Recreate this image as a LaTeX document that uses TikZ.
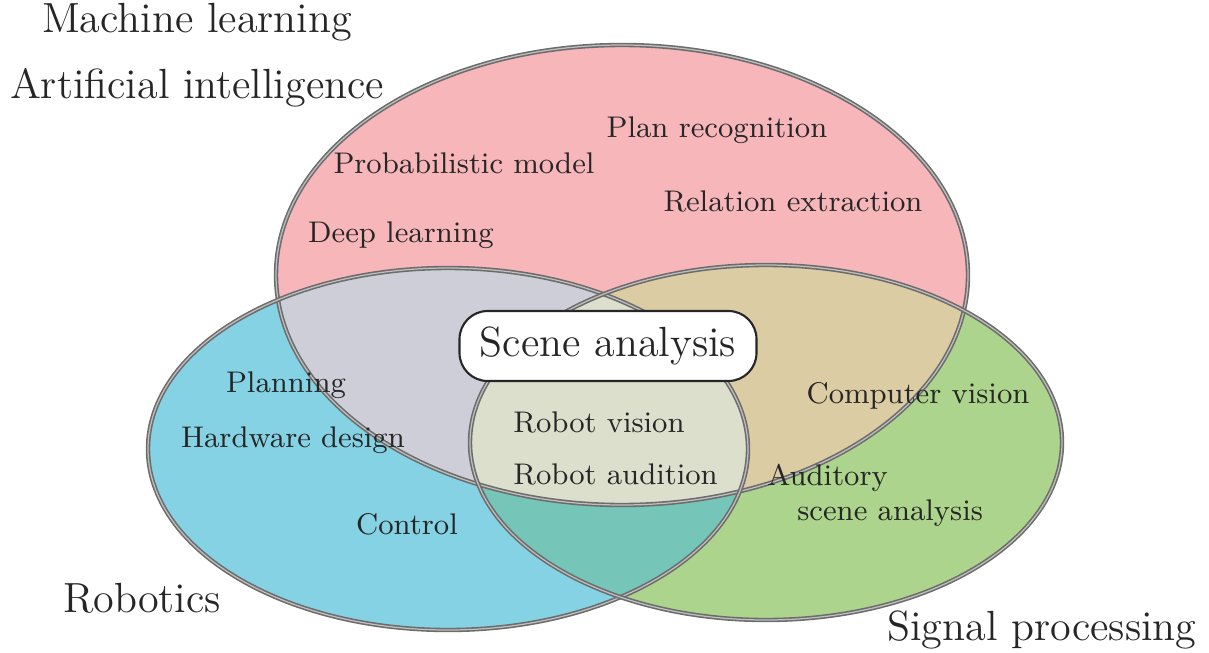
\documentclass[tikz,border=0pt]{standalone}
\usepackage{xcolor}
\usepackage{tikz}

\definecolor{aired}{HTML}{F7B6BA}
\definecolor{robblue}{HTML}{84D2E4}
\definecolor{siggreen}{HTML}{ADD48C}
\definecolor{airob}{HTML}{CDCED8}
\definecolor{aisig}{HTML}{DCCCA4}
\definecolor{robsig}{HTML}{75C6B8}
\definecolor{allthree}{HTML}{DCDFCC}

\begin{document}
\begin{tikzpicture}[x=0.1mm,y=-0.1mm,
	rim/.style={draw=gray!85!black, line width=0.45pt, double=gray!50, double distance=0.35pt},
	field/.style={font=\fontsize{12}{14}\selectfont, text=black!85},
	topic/.style={font=\fontsize{8.5}{10}\selectfont, text=black!85}]
	
	\useasboundingbox (0,0) rectangle (1209,652);
	\def\ai{(622,275) ellipse [x radius=346, y radius=230]}
	\def\rob{(448,449) ellipse [x radius=300, y radius=181]}
	\def\sig{(766,442.5) ellipse [x radius=296, y radius=177.5]}
	
	% base fills
	\fill[aired] \ai;
	\fill[robblue] \rob;
	\fill[siggreen] \sig;
	% overlaps
	\begin{scope}
		\clip \ai;
		\fill[airob] \rob;
		\fill[aisig] \sig;
	\end{scope}
	\begin{scope}
		\clip \rob;
		\fill[robsig] \sig;
		\clip \ai;
		\fill[allthree] \sig;
	\end{scope}
	% outlines
	\draw[rim] \ai;
	\draw[rim] \rob;
	\draw[rim] \sig;
	
	\node[field] (ml) at (197,22) {Machine learning};
	\node[field] (aifield) at (197,88) {Artificial intelligence};
	\node[field] (robfield) at (142,598) {Robotics};
	\node[field] (sigfield) at (1042,630) {Signal processing};
	
	\node[topic] (plan) at (717,130) {Plan recognition};
	\node[topic] (prob) at (464,163) {Probabilistic model};
	\node[topic] (rel) at (793,201) {Relation extraction};
	\node[topic] (deep) at (401,235) {Deep learning};
	\node[topic] (planning) at (286,385) {Planning};
	\node[topic] (hw) at (293,440) {Hardware design};
	\node[topic] (control) at (407,524) {Control};
	\node[topic, anchor=west] (rv) at (501,422) {Robot vision};
	\node[topic, anchor=west] (ra) at (501,474) {Robot audition};
	\node[topic] (cv) at (918,396) {Computer vision};
	\node[topic, align=left, anchor=north west] (asa) at (755,452) {Auditory\\\quad scene analysis};
	
	\node[field, draw=black!85, fill=white, rounded corners=8pt, line width=0.6pt,
		minimum width=29.7mm, minimum height=7mm] (scene) at (608,346) {Scene analysis};
\end{tikzpicture}
\end{document}
